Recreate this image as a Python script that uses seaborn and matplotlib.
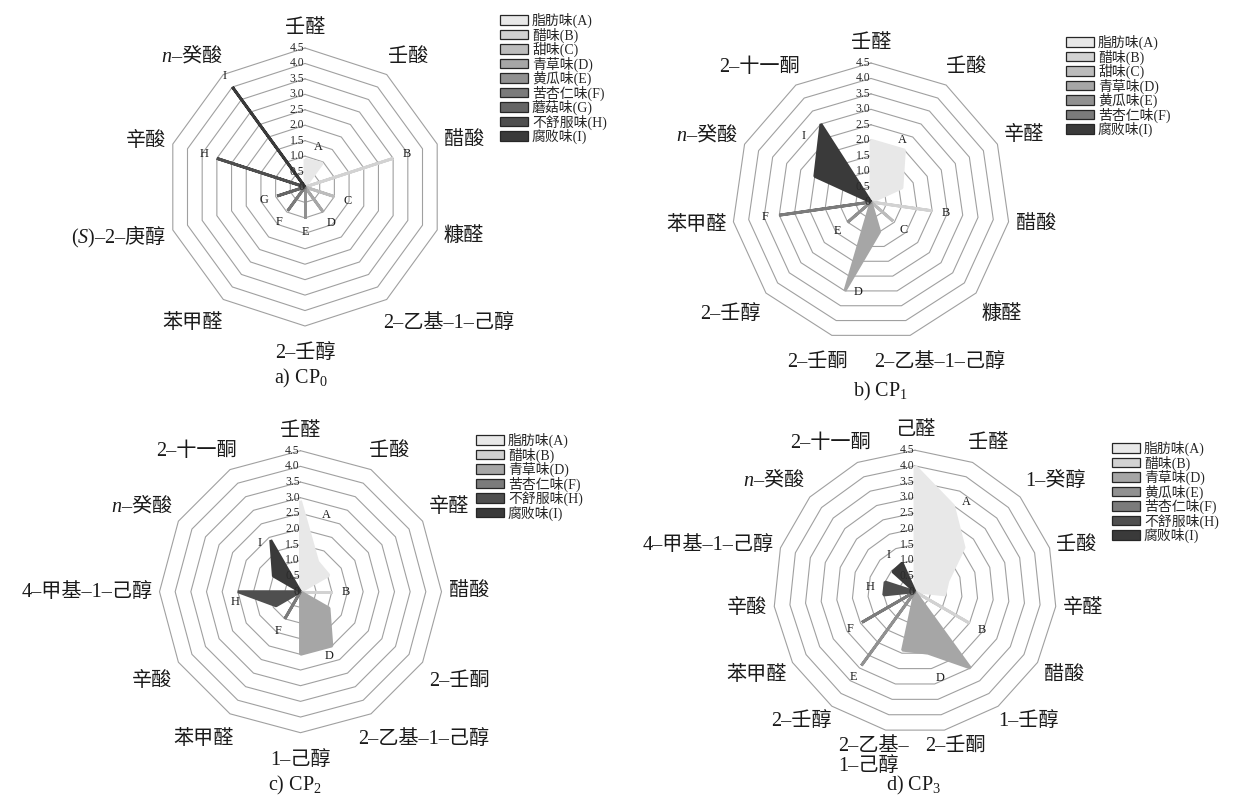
import numpy as np
import matplotlib
matplotlib.use("Agg")
import matplotlib.pyplot as plt
from matplotlib.patches import Patch
from matplotlib.font_manager import FontProperties
import seaborn as sns

W, H = 1236, 796

# odour attributes (legend)
letters = ["A", "B", "C", "D", "E", "F", "G", "H", "I"]
odor_names = ["脂肪味", "醋味", "甜味", "青草味", "黄瓜味", "苦杏仁味", "蘑菇味", "不舒服味", "腐败味"]

NA = r"$\mathit{n}\mathrm{–}$癸酸"
S2 = r"$\mathrm{(}\mathit{S}\mathrm{)–2–}$庚醇"

# a) CP0
cp0_compounds = ["壬醛", "壬酸", "醋酸", "糠醛", "2–乙基–1–己醇", "2–壬醇", "苯甲醛", S2, "辛酸", NA]
cp0_series = {
    "A": [0.9, 0.95, 0, 0, 0, 0, 0, 0, 0, 0],
    "B": [0, 0, 3.0, 0, 0, 0, 0, 0, 0, 0],
    "C": [0, 0, 0, 1.0, 0, 0, 0, 0, 0, 0],
    "D": [0, 0, 0, 0, 1.0, 0, 0, 0, 0, 0],
    "E": [0, 0, 0, 0, 0, 1.0, 0, 0, 0, 0],
    "F": [0, 0, 0, 0, 0, 0, 0.95, 0, 0, 0],
    "G": [0, 0, 0, 0, 0, 0, 0, 0.95, 0, 0],
    "H": [0, 0, 0, 0, 0, 0, 0, 0, 3.0, 0],
    "I": [0, 0, 0, 0, 0, 0, 0, 0, 0, 4.0],
}

# b) CP1
cp1_compounds = ["壬醛", "壬酸", "辛醛", "醋酸", "糠醛", "2–乙基–1–己醇", "2–壬酮", "2–壬醇",
                 "苯甲醛", NA, "2–十一酮"]
cp1_series = {
    "A": [2.0, 2.0, 1.1, 0, 0, 0, 0, 0, 0, 0, 0],
    "B": [0, 0, 0, 2.0, 0, 0, 0, 0, 0, 0, 0],
    "C": [0, 0, 0, 0, 0.95, 0, 0, 0, 0, 0, 0],
    "D": [0, 0, 0, 0, 0, 1.0, 3.0, 0, 0, 0, 0],
    "E": [0, 0, 0, 0, 0, 0, 0, 1.0, 0, 0, 0],
    "F": [0, 0, 0, 0, 0, 0, 0, 0, 3.0, 0, 0],
    "I": [0, 0, 0, 0, 0, 0, 0, 0, 0, 2.0, 3.0],
}

# c) CP2
cp2_compounds = ["壬醛", "壬酸", "辛醛", "醋酸", "2–壬酮", "2–乙基–1–己醇", "1–己醇", "苯甲醛",
                 "辛酸", "4–甲基–1–己醇", NA, "2–十一酮"]
cp2_series = {
    "A": [2.9, 1.1, 1.05, 0, 0, 0, 0, 0, 0, 0, 0, 0],
    "B": [0, 0, 0, 1.0, 0, 0, 0, 0, 0, 0, 0, 0],
    "D": [0, 0, 0, 0, 1.05, 2.0, 2.0, 0, 0, 0, 0, 0],
    "F": [0, 0, 0, 0, 0, 0, 0, 1.0, 0, 0, 0, 0],
    "H": [0, 0, 0, 0, 0, 0, 0, 0, 0.9, 2.0, 0, 0],
    "I": [0, 0, 0, 0, 0, 0, 0, 0, 0, 0, 1.0, 1.9],
}

# d) CP3
cp3_compounds = ["己醛", "壬醛", "1–癸醇", "壬酸", "辛醛", "醋酸", "1–壬醇", "2–壬酮",
                 "2–乙基–\n1–己醇", "2–壬醇", "苯甲醛", "辛酸", "4–甲基–1–己醇", NA, "2–十一酮"]
cp3_series = {
    "A": [4.0, 3.0, 2.1, 1.1, 0.95, 0, 0, 0, 0, 0, 0, 0, 0, 0, 0],
    "B": [0, 0, 0, 0, 0, 2.0, 0, 0, 0, 0, 0, 0, 0, 0, 0],
    "D": [0, 0, 0, 0, 0, 0, 3.0, 2.0, 1.9, 0, 0, 0, 0, 0, 0],
    "E": [0, 0, 0, 0, 0, 0, 0, 0, 0, 2.9, 0, 0, 0, 0, 0],
    "F": [0, 0, 0, 0, 0, 0, 0, 0, 0, 0, 1.95, 0, 0, 0, 0],
    "H": [0, 0, 0, 0, 0, 0, 0, 0, 0, 0, 0, 1.0, 1.0, 0, 0],
    "I": [0, 0, 0, 0, 0, 0, 0, 0, 0, 0, 0, 0, 0, 0.95, 1.0],
}

ring_levels = np.arange(0, 4.51, 0.5)
r_max = 4.5

sns.set_theme(style="white")
serif_cjk = ["Liberation Serif", "Noto Sans CJK SC"]
plt.rcParams["font.family"] = serif_cjk
plt.rcParams["mathtext.fontset"] = "custom"
plt.rcParams["mathtext.rm"] = "Liberation Serif"
plt.rcParams["mathtext.it"] = "Liberation Serif:italic"

palette = sns.blend_palette(["#e8e8e8", "#3a3a3a"], len(letters))
colors = dict(zip(letters, palette))
grid_color = "#a0a0a0"
text_color = "#1a1a1a"

fig = plt.figure(figsize=(W / 100, H / 100), dpi=100)
renderer = fig.canvas.get_renderer()


def draw_radar(compounds, series, center, R, legend_xy, caption, caption_xy, gap_bottom=17):
    cx, cy = center
    pad = 6
    ax = fig.add_axes([(cx - R - pad) / W, 1 - (cy + R + pad) / H,
                       2 * (R + pad) / W, 2 * (R + pad) / H])
    lim = r_max * (R + pad) / R
    ax.set_xlim(-lim, lim)
    ax.set_ylim(-lim, lim)
    ax.axis("off")

    n = len(compounds)
    step = 2 * np.pi / n
    theta = np.arange(n) * step
    sx, cy_ = np.sin(theta), np.cos(theta)

    # polygon gridlines
    for v in ring_levels[1:]:
        ax.plot(np.r_[v * sx, v * sx[0]], np.r_[v * cy_, v * cy_[0]],
                color=grid_color, lw=0.8, zorder=1)

    # series
    for key, vals in series.items():
        vals = np.asarray(vals, dtype=float)
        x, y = vals * sx, vals * cy_
        ax.fill(x, y, color=colors[key], lw=0, zorder=2)
        ax.plot(np.r_[x, x[0]], np.r_[y, y[0]], color=colors[key], lw=2.1,
                solid_joinstyle="bevel", solid_capstyle="butt", zorder=3)
        # letter tag just beyond the series
        ang = np.arctan2(np.sum(x), np.sum(y))
        r = np.sum(vals ** 2) / np.sum(vals) + 0.45
        ax.text(r * np.sin(ang), r * np.cos(ang), key, ha="center", va="center",
                fontsize=8.8, family="Liberation Serif", color=text_color, zorder=7)

    # radial tick labels along the first axis
    for v in ring_levels:
        lbl = "0" if v == 0 else f"{v:.1f}"
        ax.annotate(lbl, (0, v), xytext=(-0.6, 0), textcoords="offset points",
                    ha="right", va="center", fontsize=8.4, family="Liberation Serif",
                    color="#2a2a2a", zorder=8, annotation_clip=False)

    # compound labels placed just outside the outer ring
    for i, lab in enumerate(compounds):
        fam = "Noto Sans CJK SC" if "$" in lab else serif_cjk
        t = ax.annotate(lab, (r_max * sx[i], r_max * cy_[i]), xytext=(0, 0),
                        textcoords="offset points", ha="center", va="center",
                        multialignment="left", fontsize=14.5, family=fam,
                        color=text_color, annotation_clip=False, linespacing=1.05)
        bb = t.get_window_extent(renderer)
        s, c = sx[i], cy_[i]
        f = np.clip(1.5 * s, -1, 1)
        g = np.sign(c) * np.clip((abs(c) - 0.3) * 5, 0, 1)
        gx = 7
        gy = 11 if c > 0 else gap_bottom
        dx = gx * s + bb.width / 2 * f
        dy = gy * c + bb.height / 2 * g - 1
        t.xyann = (dx * 0.72, dy * 0.72)

    handles = [Patch(facecolor=colors[k], edgecolor="#262626", lw=0.9) for k in series]
    labels = [f"{odor_names[letters.index(k)]}({k})" for k in series]
    fig.legend(handles, labels, loc="upper left",
               bbox_to_anchor=(legend_xy[0] / W, 1 - legend_xy[1] / H),
               frameon=False, prop=FontProperties(family=serif_cjk, size=10),
               handlelength=2.0, handleheight=0.66, labelspacing=-0.05,
               handletextpad=0.3, borderpad=0, borderaxespad=0)

    fig.text(caption_xy[0] / W, 1 - caption_xy[1] / H, caption, ha="center",
             va="center", fontsize=14.5, color=text_color)


draw_radar(cp0_compounds, cp0_series, (305, 187), 139, (500, 13),
           r"a) CP$_\mathrm{0}$", (301, 378))
draw_radar(cp1_compounds, cp1_series, (871, 202), 139, (1066, 35),
           r"b) CP$_\mathrm{1}$", (880, 391))
draw_radar(cp2_compounds, cp2_series, (300.5, 591.7), 141, (476, 433),
           r"c) CP$_\mathrm{2}$", (295, 785))
draw_radar(cp3_compounds, cp3_series, (915, 591.7), 141.5, (1112, 441),
           r"d) CP$_\mathrm{3}$", (914, 785), gap_bottom=6)

fig.savefig("out.png", dpi=100, facecolor="white")
